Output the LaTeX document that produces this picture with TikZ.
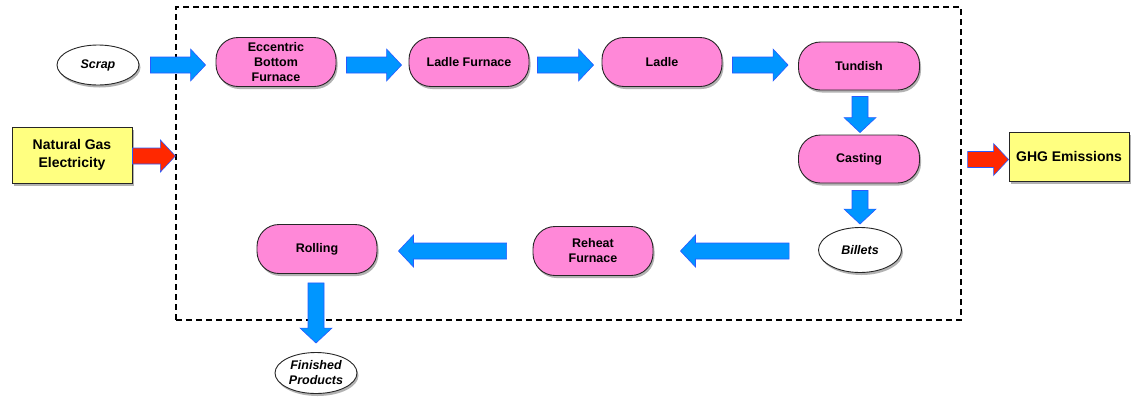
\documentclass[tikz,border=0pt]{standalone}
\usepackage{fontspec}
\setmainfont{Liberation Sans}
\usetikzlibrary{calc,shapes.geometric,shadows}
\definecolor{pinkbox}{RGB}{255,136,216}
\definecolor{yellowbox}{RGB}{255,255,128}
\definecolor{arrowblue}{RGB}{0,150,255}
\definecolor{edgeblue}{RGB}{40,90,255}
\definecolor{arrowred}{RGB}{255,40,0}
\newcommand\blockarrow[3]{%
  \coordinate (ba-a) at (#1);
  \coordinate (ba-b) at (#2);
  \coordinate (ba-c) at ($(ba-b)!15pt!(ba-a)$);
  \draw[#3] ($(ba-a)!8pt!90:(ba-b)$) -- ($(ba-c)!8pt!-90:(ba-a)$) -- ($(ba-c)!16pt!-90:(ba-a)$)
    -- (ba-b) -- ($(ba-c)!16pt!90:(ba-a)$) -- ($(ba-c)!8pt!90:(ba-a)$) -- ($(ba-a)!8pt!-90:(ba-b)$) -- cycle;}
\tikzset{
  shade/.style={drop shadow={shadow xshift=1.5pt,shadow yshift=-2.5pt,opacity=0.3,fill=black}},
  proc/.style={shade,draw=black!85,line width=0.9pt,fill=pinkbox,rounded corners=22pt,
    minimum width=120pt,minimum height=49pt,inner sep=0pt,align=center,
    font=\fontsize{12.5}{15}\selectfont\bfseries},
  io/.style={shade,ellipse,draw=black!85,line width=0.9pt,fill=white,inner sep=0pt,align=center,
    font=\fontsize{12.5}{15}\selectfont\bfseries\itshape},
  ext/.style={shade,draw=black!85,line width=0.9pt,fill=yellowbox,minimum width=120pt,
    inner sep=0pt,align=center,font=\fontsize{14}{18}\selectfont\bfseries},
  bluearrow/.style={fill=arrowblue,draw=edgeblue,line width=0.6pt,line join=miter},
  redarrow/.style={fill=arrowred,draw=edgeblue,line width=0.6pt,line join=miter},
  sysbox/.style={draw=black,dash pattern=on 6pt off 4pt,line width=1.2pt,inner sep=0pt,
    minimum width=785pt,minimum height=313pt}
}
\begin{document}
\begin{tikzpicture}[x=1pt,y=-1pt]
\useasboundingbox (0,0) rectangle (1135,400);
\node[sysbox] (sys) at (568.5,163.5) {};
\node[io,minimum width=82pt,minimum height=40pt] (scrap) at (98,65) {Scrap};
\node[proc] (ebf) at (276,62) {Eccentric\\Bottom\\Furnace};
\node[proc] (ladlef) at (469,62) {Ladle Furnace};
\node[proc] (ladle) at (662,62) {Ladle};
\node[proc,minimum width=121pt,minimum height=48pt] (tundish) at (859,66) {Tundish};
\node[proc,minimum width=121pt,minimum height=48pt] (casting) at (859,159) {Casting};
\node[io,minimum width=83pt,minimum height=45pt] (billets) at (860,250) {Billets};
\node[proc] (reheat) at (593,251) {Reheat\\Furnace};
\node[proc] (rolling) at (317,249) {Rolling};
\node[io,minimum width=82pt,minimum height=41pt] (finished) at (316,373) {Finished\\Products};
\node[ext,minimum height=56pt] (natgas) at (72,155) {Natural Gas\\Electricity};
\node[ext,minimum height=49pt] (ghg) at (1069,156.5) {GHG Emissions};
\blockarrow{$(scrap.east)+(11,0)$}{$(ebf.west)+(-10,3)$}{bluearrow}
\blockarrow{$(ebf.east)+(10,3)$}{$(ladlef.west)+(-7,3)$}{bluearrow}
\blockarrow{$(ladlef.east)+(8,3)$}{$(ladle.west)+(-8,3)$}{bluearrow}
\blockarrow{$(ladle.east)+(10,3)$}{$(tundish.west)+(-10,-1)$}{bluearrow}
\blockarrow{$(tundish.south)+(1,6)$}{$(casting.north)+(1,-2)$}{bluearrow}
\blockarrow{$(casting.south)+(1,7)$}{$(billets.north)+(0,-3)$}{bluearrow}
\blockarrow{$(billets.west)+(-29,1)$}{$(reheat.east)+(27,0)$}{bluearrow}
\blockarrow{$(reheat.west)+(-26,0)$}{$(rolling.east)+(21,2)$}{bluearrow}
\blockarrow{$(rolling.south)+(-1,9)$}{$(finished.north)+(0,-9)$}{bluearrow}
\blockarrow{$(natgas.east)+(0,1)$}{$(sys.west |- natgas.east)+(0,1)$}{redarrow}
\blockarrow{$(sys.east |- ghg.west)+(6,3)$}{$(ghg.west)+(0,3)$}{redarrow}
\end{tikzpicture}
\end{document}
